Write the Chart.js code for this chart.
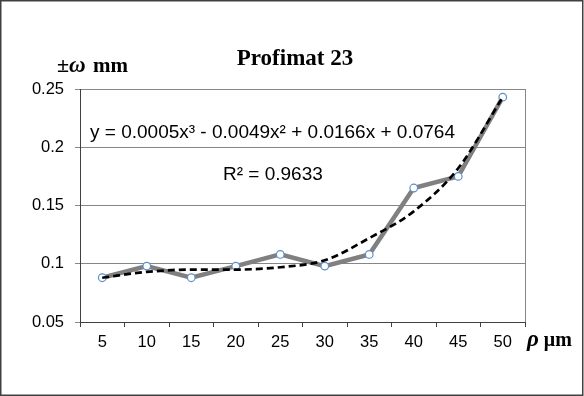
<!DOCTYPE html>
<html>
<head>
  <meta charset="UTF-8">
  <title>Profimat 23</title>
  <script src="https://cdn.jsdelivr.net/npm/chart.js"></script>
  <style>
    body { margin: 0; background: #fff; }
    #wrap { width: 584px; height: 396px; }
  </style>
</head>
<body>
  <div id="wrap"><canvas id="chart" width="584" height="396"></canvas></div>

  <script>
    // values
    const categories = ['5', '10', '15', '20', '25', '30', '35', '40', '45', '50'];
    const omega = [0.088, 0.098, 0.088, 0.098, 0.108, 0.098, 0.108, 0.165, 0.175, 0.243];
    const trend = [0.088, 0.093, 0.095, 0.095, 0.097, 0.103, 0.122, 0.145, 0.182, 0.243];
    const yTicks = [0.05, 0.1, 0.15, 0.2, 0.25];

    const titleText = 'Profimat 23';
    const equationText = 'y = 0.0005x³ - 0.0049x² + 0.0166x + 0.0764';
    const r2Text = 'R² = 0.9633';

    const SANS = '"Liberation Sans", Arial, sans-serif';
    const SERIF = '"Liberation Serif", "Times New Roman", serif';

    // draws the frame, title, axis names and the trendline label
    const decorations = {
      id: 'decorations',
      beforeDatasetsDraw(chart) {
        const ctx = chart.ctx, a = chart.chartArea;
        ctx.save();
        ctx.strokeStyle = '#868686';
        ctx.lineWidth = 1;
        ctx.beginPath();
        ctx.moveTo(Math.round(a.right) + 0.5, a.top);
        ctx.lineTo(Math.round(a.right) + 0.5, a.bottom);
        ctx.stroke();
        ctx.restore();
      },
      afterDraw(chart) {
        const ctx = chart.ctx;
        ctx.save();
        ctx.fillStyle = '#000';
        ctx.textBaseline = 'alphabetic';

        // title
        ctx.font = 'bold 23px ' + SERIF;
        ctx.textAlign = 'center';
        ctx.fillText(titleText, 295, 65);

        // y axis name: ±ω mm
        ctx.textAlign = 'left';
        let x = 57;
        ctx.font = 'bold 22px ' + SERIF;
        ctx.fillText('±', x, 72);
        x += ctx.measureText('±').width;
        ctx.font = 'italic bold 23px ' + SERIF;
        ctx.fillText('ω', x, 72);
        x += ctx.measureText('ω').width;
        ctx.font = 'bold 21px ' + SERIF;
        ctx.fillText(' mm', x + 2, 72);

        // x axis name: ρ μm
        x = 527;
        ctx.font = 'italic bold 23px ' + SERIF;
        ctx.fillText('ρ', x, 346);
        x += ctx.measureText('ρ').width;
        ctx.font = 'bold 20px ' + SERIF;
        ctx.fillText(' μm', x, 346);

        // trendline label
        ctx.font = '19px ' + SANS;
        ctx.textBaseline = 'middle';
        ctx.fillText(equationText, 90, 133);
        ctx.fillText(r2Text, 223, 175);

        // outer frame
        ctx.strokeStyle = '#404040';
        ctx.lineWidth = 1.5;
        ctx.strokeRect(0.75, 0.75, 582, 394.5);
        ctx.restore();
      }
    };

    new Chart(document.getElementById('chart'), {
      type: 'line',
      data: {
        labels: categories,
        datasets: [
          {
            label: 'Trend',
            data: trend,
            order: 0,
            borderColor: '#000',
            borderWidth: 2.7,
            borderDash: [7, 4],
            pointRadius: 0,
            cubicInterpolationMode: 'monotone',
            fill: false
          },
          {
            label: 'Profimat 23',
            data: omega,
            order: 1,
            borderColor: '#808080',
            borderWidth: 4.5,
            pointRadius: 3.8,
            pointBorderWidth: 1.2,
            pointBackgroundColor: '#fff',
            pointBorderColor: '#5b8fc9',
            tension: 0,
            fill: false
          }
        ]
      },
      options: {
        responsive: false,
        animation: false,
        events: [],
        layout: { padding: { left: 0, top: 89, right: 59, bottom: 0 } },
        plugins: {
          legend: { display: false },
          title: { display: false },
          tooltip: { enabled: false }
        },
        scales: {
          x: {
            offset: true,
            grid: {
              offset: true,
              drawOnChartArea: false,
              tickLength: 5,
              color: '#404040'
            },
            border: { color: '#404040', width: 1 },
            ticks: {
              color: '#000',
              font: { family: SANS, size: 16.5 },
              padding: 6,
              maxRotation: 0
            },
            afterFit(scale) { scale.height = 74; }
          },
          y: {
            min: yTicks[0],
            max: yTicks[yTicks.length - 1],
            afterBuildTicks(scale) {
              scale.ticks = yTicks.map(v => ({ value: v }));
            },
            grid: {
              color: '#868686',
              tickColor: '#868686',
              tickLength: 5,
              lineWidth: 1
            },
            border: { color: '#404040', width: 1 },
            ticks: {
              color: '#000',
              font: { family: SANS, size: 16.5 },
              padding: 11,
              callback: v => String(Math.round(v * 100) / 100)
            },
            afterFit(scale) { scale.width = 80; }
          }
        }
      },
      plugins: [decorations]
    });
  </script>
</body>
</html>
